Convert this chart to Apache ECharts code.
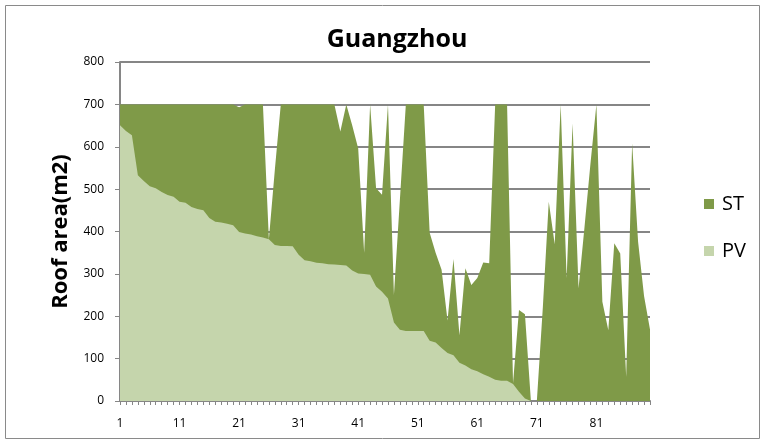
<!DOCTYPE html>
<html>
<head>
<meta charset="utf-8">
<script src="https://cdn.jsdelivr.net/npm/echarts@6/dist/echarts.min.js"></script>
<style>
  html, body { margin: 0; padding: 0; background: #fff; }
  #chart { width: 765px; height: 444px; }
</style>
</head>
<body>
<div id="chart"></div>
<script>
// Building index along the x axis
const categories = [
  '1','2','3','4','5','6','7','8','9','10',
  '11','12','13','14','15','16','17','18','19','20',
  '21','22','23','24','25','26','27','28','29','30',
  '31','32','33','34','35','36','37','38','39','40',
  '41','42','43','44','45','46','47','48','49','50',
  '51','52','53','54','55','56','57','58','59','60',
  '61','62','63','64','65','66','67','68','69','70',
  '71','72','73','74','75','76','77','78','79','80',
  '81','82','83','84','85','86','87','88','89','90'
];

// Roof area (m2) for solar thermal (ST)
const stArea = [
  700,700,700,700,700,700,700,700,700,700,
  700,700,700,700,700,700,700,700,700,700,
  693,700,700,700,700,382,545,700,700,700,
  700,700,700,700,700,700,700,636,700,650,
  596,350,700,502,487,700,250,475,700,700,
  700,700,397,350,310,190,335,155,313,274,
  290,327,325,700,700,700,42,215,205,0,
  0,220,470,370,700,290,655,266,410,560,
  700,234,167,372,348,57,608,376,248,169
];

// Roof area (m2) for photovoltaics (PV)
const pvArea = [
  651,637,627,533,519,507,502,493,486,482,
  470,468,458,453,450,432,423,421,418,415,
  399,395,393,389,386,382,368,366,366,365,
  345,332,330,326,325,323,322,321,320,308,
  301,300,298,270,258,242,185,168,165,165,
  165,165,142,138,125,113,108,90,84,75,
  70,63,57,50,48,48,40,22,6,0,
  0,0,0,0,0,0,0,0,0,0,
  0,0,0,0,0,0,0,0,0,0
];

const chart = echarts.init(document.getElementById('chart'), null, { renderer: 'canvas' });
const font = '"Open Sans", "Liberation Sans", sans-serif';
const axisGray = '#868686';

chart.setOption({
  animation: false,
  backgroundColor: '#ffffff',
  graphic: [{
    type: 'rect',
    shape: { x: 5.5, y: 5.5, width: 754, height: 433 },
    style: { fill: 'none', stroke: '#8a8a8a', lineWidth: 1 },
    silent: true
  }],
  title: {
    text: 'Guangzhou',
    left: 392,
    top: 22,
    textAlign: 'center',
    textStyle: { fontFamily: font, fontSize: 25, fontWeight: 'bold', color: '#000' }
  },
  legend: {
    data: ['ST', 'PV'],
    orient: 'vertical',
    left: 699,
    top: 189,
    itemWidth: 10,
    itemHeight: 10,
    itemGap: 27,
    icon: 'rect',
    textStyle: { fontFamily: font, fontSize: 20, color: '#000', padding: [0, 0, 0, 3] }
  },
  grid: { left: 120, right: 115, top: 62, bottom: 43, containLabel: false },
  xAxis: {
    type: 'category',
    data: categories,
    boundaryGap: false,
    axisLine: { lineStyle: { color: axisGray, width: 2 } },
    axisTick: { show: true, interval: 0, length: 4, lineStyle: { color: axisGray, width: 1 } },
    axisLabel: { interval: 9, fontFamily: font, fontSize: 12, color: '#000', margin: 17 },
    splitLine: { show: false }
  },
  yAxis: {
    type: 'value',
    min: 0,
    max: 800,
    interval: 100,
    name: 'Roof area(m2)',
    nameLocation: 'middle',
    nameRotate: 90,
    nameGap: 48,
    nameTextStyle: { fontFamily: font, fontSize: 22, fontWeight: 'bold', color: '#000' },
    axisLine: { show: true, lineStyle: { color: axisGray, width: 2 } },
    axisTick: { show: true, length: 5, lineStyle: { color: axisGray, width: 1 } },
    axisLabel: { fontFamily: font, fontSize: 12, color: '#000', margin: 16 },
    splitLine: { show: true, lineStyle: { color: axisGray, width: 2 } }
  },
  series: [
    {
      name: 'ST',
      type: 'line',
      data: stArea,
      showSymbol: false,
      symbol: 'none',
      lineStyle: { width: 0 },
      itemStyle: { color: '#7f9a48' },
      areaStyle: { color: '#7f9a48', opacity: 1 },
      z: 2
    },
    {
      name: 'PV',
      type: 'line',
      data: pvArea,
      showSymbol: false,
      symbol: 'none',
      lineStyle: { width: 0 },
      itemStyle: { color: '#c5d5ac' },
      areaStyle: { color: '#c5d5ac', opacity: 1 },
      z: 3
    }
  ]
});
</script>
</body>
</html>
